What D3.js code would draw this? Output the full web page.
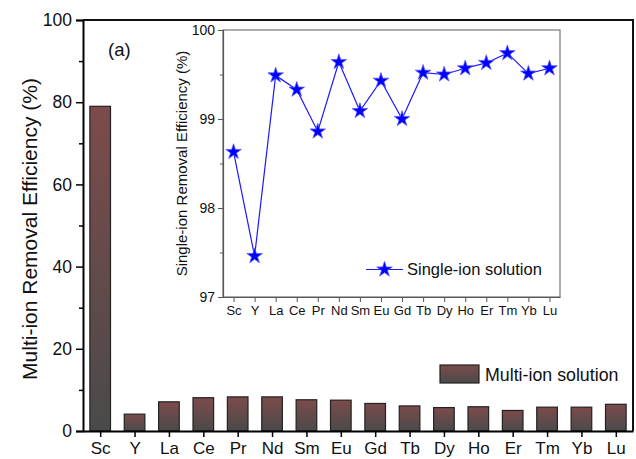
<!DOCTYPE html>
<html><head><meta charset="utf-8">
<script src="https://cdn.jsdelivr.net/npm/d3@7"></script>
<style>body{margin:0;background:#fff}svg{display:block;font-family:Arial,"Liberation Sans",sans-serif}</style>
</head><body>
<svg id="c" width="636" height="459"></svg>
<script>
const categories = ["Sc","Y","La","Ce","Pr","Nd","Sm","Eu","Gd","Tb","Dy","Ho","Er","Tm","Yb","Lu"];
const multiIon = [79.0,4.1,7.1,8.1,8.3,8.3,7.6,7.5,6.7,6.1,5.7,5.9,5.0,5.8,5.8,6.5];
const singleIon = [98.63,97.46,99.49,99.33,98.86,99.64,99.09,99.43,99.0,99.52,99.50,99.57,99.63,99.74,99.51,99.57];
const mainTicks = [0,20,40,60,80,100];
const insetTicks = [97,98,99,100];

const svg = d3.select("#c");
const defs = svg.append("defs");
const g = defs.append("linearGradient").attr("id","bg").attr("x1",0).attr("y1",0).attr("x2",0).attr("y2",1);
g.append("stop").attr("offset","0%").attr("stop-color","#7d4b4b");
g.append("stop").attr("offset","100%").attr("stop-color","#4a4a4a");

// main
const L=83,R=633,T=20,B=431;
const x = d3.scalePoint().domain(categories).range([L,R]).padding(0.5);
const y = d3.scaleLinear().domain([0,100]).range([B,T]);
const bw = x.step()*0.6;

svg.append("g").selectAll("rect").data(categories).join("rect")
  .attr("x",d=>x(d)-bw/2).attr("y",(d,i)=>y(multiIon[i]))
  .attr("width",bw).attr("height",(d,i)=>B-y(multiIon[i]))
  .attr("fill","url(#bg)").attr("stroke","#222").attr("stroke-width",1.2);

const ya = svg.append("g").attr("transform",`translate(${L},0)`)
  .call(d3.axisLeft(y).tickValues(mainTicks).tickSize(7).tickPadding(4));
ya.selectAll("text").attr("font-size",17.5).attr("fill","#111");
ya.select(".domain").attr("stroke-width",2);
ya.selectAll(".tick line").attr("stroke-width",1.5);
svg.append("g").attr("transform",`translate(${L},0)`)
  .call(d3.axisLeft(y).tickValues([10,30,50,70,90]).tickSize(4).tickFormat(""))
  .call(s=>{s.select(".domain").remove(); s.selectAll("line").attr("stroke-width",1.5);});

const xa = svg.append("g").attr("transform",`translate(0,${B})`)
  .call(d3.axisBottom(x).tickSize(6).tickPadding(5).tickSizeOuter(0));
xa.selectAll("text").attr("font-size",17).attr("fill","#111");
xa.select(".domain").attr("stroke-width",2);
xa.selectAll(".tick line").attr("stroke-width",1.5);

svg.append("path").attr("d",`M${L},${T}H${R}V${B}`).attr("fill","none").attr("stroke","#111").attr("stroke-width",2);

svg.append("text").attr("transform",`translate(37,229) rotate(-90)`)
  .attr("text-anchor","middle").attr("font-size",21).attr("fill","#111").text("Multi-ion Removal Efficiency (%)");
svg.append("text").attr("x",108).attr("y",56).attr("font-size",18.5).attr("fill","#111").text("(a)");

// main legend
svg.append("rect").attr("x",440).attr("y",365).attr("width",39).attr("height",18)
  .attr("fill","url(#bg)").attr("stroke","#222").attr("stroke-width",1.2);
svg.append("text").attr("x",485).attr("y",381).attr("font-size",17.8).attr("fill","#111").text("Multi-ion solution");

// inset
const iL=223,iR=560,iT=30,iB=297;
const xi = d3.scalePoint().domain(categories).range([iL,iR]).padding(0.5);
const yi = d3.scaleLinear().domain([97,100]).range([iB,iT]);
svg.append("rect").attr("x",iL).attr("y",iT).attr("width",iR-iL).attr("height",iB-iT)
  .attr("fill","#fff").attr("stroke","#777").attr("stroke-width",1.2);

const yia = svg.append("g").attr("transform",`translate(${iL},0)`)
  .call(d3.axisLeft(yi).tickValues(insetTicks).tickSize(5).tickPadding(3).tickFormat(d3.format("d")));
yia.selectAll("text").attr("font-size",14).attr("fill","#111");
yia.select(".domain").attr("stroke","#555").attr("stroke-width",1.2);
yia.selectAll(".tick line").attr("stroke","#555");
svg.append("g").attr("transform",`translate(${iL},0)`)
  .call(d3.axisLeft(yi).tickValues([97.5,98.5,99.5]).tickSize(3).tickFormat(""))
  .call(s=>{s.select(".domain").remove(); s.selectAll("line").attr("stroke","#555");});
const xia = svg.append("g").attr("transform",`translate(0,${iB})`)
  .call(d3.axisBottom(xi).tickSize(5).tickPadding(4).tickSizeOuter(0));
xia.selectAll("text").attr("font-size",13).attr("fill","#111");
xia.select(".domain").attr("stroke","#555").attr("stroke-width",1.2);
xia.selectAll(".tick line").attr("stroke","#555");

svg.append("text").attr("transform",`translate(187,${(iT+iB)/2}) rotate(-90)`)
  .attr("text-anchor","middle").attr("font-size",15).attr("fill","#111").text("Single-ion Removal Efficiency (%)");

const line = d3.line().x((d,i)=>xi(categories[i])).y(d=>yi(d));
svg.append("path").datum(singleIon).attr("d",line).attr("fill","none").attr("stroke","#1a1aff").attr("stroke-width",1.2);
const star = d3.symbol().type(d3.symbolStar).size(75);
svg.append("g").selectAll("path").data(singleIon).join("path")
  .attr("transform",(d,i)=>`translate(${xi(categories[i])},${yi(d)})`)
  .attr("d",star).attr("fill","#0000ff").attr("stroke","#5a5aff").attr("stroke-width",0.8);

// inset legend
svg.append("line").attr("x1",366).attr("x2",403).attr("y1",269.5).attr("y2",269.5).attr("stroke","#1a1aff").attr("stroke-width",1.2);
svg.append("path").attr("transform","translate(384.5,269.5)").attr("d",star).attr("fill","#0000ff").attr("stroke","#5a5aff").attr("stroke-width",0.8);
svg.append("text").attr("x",407).attr("y",275).attr("font-size",16.5).attr("fill","#111").text("Single-ion solution");
</script>
</body></html>
